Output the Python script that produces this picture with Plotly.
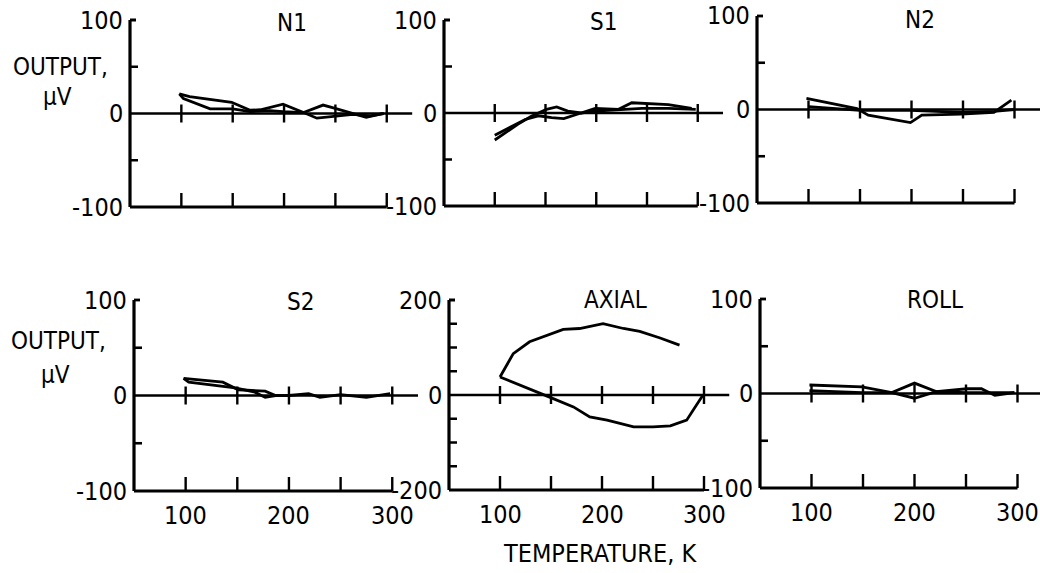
import plotly.graph_objects as go

# ---------------- data ----------------
panel_titles = ["N1", "S1", "N2", "S2", "AXIAL", "ROLL"]
y_limits = [100, 100, 100, 100, 200, 100]
x_tick_labels = [100, 200, 300]

n1_temp_a = [98, 108, 149, 167, 177, 199, 219, 238, 248, 267, 280, 297]
n1_out_a = [21, 18, 12, 3.5, 4, 10, 1, 9, 6, 0, -4, 0]
n1_temp_b = [98, 102, 128, 150, 167, 186, 199, 219, 232, 248, 267, 284, 297]
n1_out_b = [21, 16, 5, 5, 2, 3, 2, 1, -5, -3, -1, -2.5, 0]

s1_temp_a = [100, 123, 136, 151, 161, 172, 185, 199, 222, 235, 271, 294]
s1_out_a = [-29, -12, -3.5, 4, 6.5, 2, 0, 5, 4, 11, 9, 5]
s1_temp_b = [100, 130, 143, 156, 168, 185, 199, 245, 271, 298]
s1_out_b = [-24, -7, -3, -5, -6, 0, 2, 5, 5, 4]

n2_temp_a = [98, 147, 158, 199, 210, 248, 280, 297]
n2_out_a = [12, 1, -6, -14, -6, -5, -3, 10]
n2_temp_b = [100, 150, 199, 248, 280, 300]
n2_out_b = [3, -1, -1, -3, -2, 0]

s2_temp_a = [98, 136, 151, 177, 187, 200, 219, 230, 250, 275, 298]
s2_out_a = [18, 14, 6, 4.5, 0, 0, 2, -2, 1, -2, 2]
s2_temp_b = [98, 103, 148, 167, 177, 187]
s2_out_b = [18, 14, 8, 3.5, -2, 0]

axial_temp_a = [100, 113, 129, 146, 162, 178, 201, 221, 237, 257, 276]
axial_out_a = [38, 87, 112, 126, 138, 140, 150, 140, 134, 120, 105]
axial_temp_b = [100, 120, 139, 148, 172, 188, 205, 231, 250, 267, 283, 299]
axial_out_b = [38, 20, 3, -4, -25, -46, -53, -67, -67, -65, -53, 0]

roll_temp_a = [98, 149, 178, 200, 221, 251, 265, 278, 297]
roll_out_a = [9, 7, 1, 11, 2, 5, 5, -2, 1]
roll_temp_b = [98, 149, 178, 200, 221, 251, 278, 297]
roll_out_b = [3, 1, 1, -5, 2, 1, 1, 1]

series = [
    [(n1_temp_a, n1_out_a), (n1_temp_b, n1_out_b)],
    [(s1_temp_a, s1_out_a), (s1_temp_b, s1_out_b)],
    [(n2_temp_a, n2_out_a), (n2_temp_b, n2_out_b)],
    [(s2_temp_a, s2_out_a), (s2_temp_b, s2_out_b)],
    [(axial_temp_a, axial_out_a), (axial_temp_b, axial_out_b)],
    [(roll_temp_a, roll_out_a), (roll_temp_b, roll_out_b)],
]

# ---------------- layout geometry (pixels) ----------------
W, H = 1040, 573
FONT = "Liberation Sans Narrow, DejaVu Sans Condensed, Roboto Condensed, Arial Narrow, DejaVu Sans, sans-serif"
# x pixel of T=50 (left axis), px per K, top px, bottom px
geom = [
    (130, 1.027, 20, 207),
    (444, 1.015, 20, 206),
    (757, 1.030, 16, 203),
    (134, 1.033, 300, 491),
    (449, 1.020, 300, 490),
    (760, 1.030, 299, 488),
]
title_pos = [(292, 23), (603, 22), (920, 20), (300, 302), (615, 300), (935, 300)]

PAD = 8
fig = go.Figure()
shapes = []
annotations = []
layout = {}

for i in range(6):
    ax_px, sx, ytop, ybot = geom[i]
    ymax = y_limits[i]
    sy = (ybot - ytop) / (2 * ymax)
    xr0 = 50 - PAD / sx
    xr1 = min(325.0, 50 + (W - ax_px) / sx)
    xdom = [(ax_px - PAD) / W, min(1.0, (ax_px + (xr1 - 50) * sx) / W)]
    yr = [-ymax - PAD / sy, ymax + PAD / sy]
    ydom = [1 - (ybot + PAD) / H, min(1.0, 1 - (ytop - PAD) / H)]
    n = "" if i == 0 else str(i + 1)
    xa, ya = "x" + n, "y" + n
    layout["xaxis" + n] = dict(domain=xdom, range=[xr0, xr1], visible=False,
                               anchor=ya, fixedrange=True)
    layout["yaxis" + n] = dict(domain=ydom, range=yr, visible=False,
                               anchor=xa, fixedrange=True)

    def line(x0, y0, x1, y1, w=2.6):
        shapes.append(dict(type="line", xref=xa, yref=ya, x0=x0, y0=y0, x1=x1, y1=y1,
                           line=dict(color="black", width=w)))

    # left axis
    line(50, -ymax, 50, ymax, 3.2)
    line(50, ymax, 50 + 6 / sx, ymax, 2.8)
    step = 50
    v = -ymax + step
    while v < ymax:
        if v != 0:
            line(50, v, 50 + 8 / sx, v, 2.6)
        v += step
    # bottom axis
    line(50, -ymax, 300, -ymax, 2.9)
    for t in [100, 150, 200, 250, 300]:
        line(t, -ymax, t, -ymax + 14 / sy, 2.4)
        line(t, -9 / sy, t, 9 / sy, 2.4)
    # zero line
    line(50, 0, xr1, 0, 2.6)

    for tx, ty in series[i]:
        fig.add_trace(go.Scatter(x=tx, y=ty, mode="lines", xaxis=xa, yaxis=ya,
                                 line=dict(color="black", width=2.8),
                                 showlegend=False, hoverinfo="skip"))

    # y tick labels
    for val in [ymax, 0, -ymax]:
        annotations.append(dict(xref=xa, yref=ya, x=50, y=val, text=str(val),
                                showarrow=False, xanchor="right", yanchor="middle",
                                xshift=-5, font=dict(family=FONT, size=25, color="black")))
    # title
    tx_, ty_ = title_pos[i]
    annotations.append(dict(xref="paper", yref="paper", x=tx_ / W, y=1 - ty_ / H,
                            text=panel_titles[i], showarrow=False, xanchor="center",
                            yanchor="middle", font=dict(family=FONT, size=24, color="black")))
    # x tick labels for bottom row
    if i >= 3:
        for t in x_tick_labels:
            annotations.append(dict(xref=xa, yref=ya, x=t, y=-ymax, text=str(t),
                                    showarrow=False, xanchor="center", yanchor="middle",
                                    yshift=-24, font=dict(family=FONT, size=25, color="black")))

# y-axis titles
for (xc, yc1, yc2) in [(60, 67, 97), (58, 341, 375)]:
    annotations.append(dict(xref="paper", yref="paper", x=xc / W, y=1 - yc1 / H,
                            text="OUTPUT,", showarrow=False, xanchor="center", yanchor="middle",
                            font=dict(family=FONT, size=24, color="black")))
    annotations.append(dict(xref="paper", yref="paper", x=(xc - 3) / W, y=1 - yc2 / H,
                            text="μV", showarrow=False, xanchor="center", yanchor="middle",
                            font=dict(family=FONT, size=24, color="black")))

annotations.append(dict(xref="paper", yref="paper", x=600 / W, y=1 - 553 / H,
                        text="TEMPERATURE, K", showarrow=False, xanchor="center",
                        yanchor="middle", font=dict(family=FONT, size=25, color="black")))

fig.update_layout(width=W, height=H, margin=dict(l=0, r=0, t=0, b=0),
                  paper_bgcolor="white", plot_bgcolor="rgba(0,0,0,0)",
                  shapes=shapes, annotations=annotations, **layout)

fig.write_html("out.html", config={"displayModeBar": False},
               post_script="document.body.style.margin='0';document.body.style.padding='0';")
